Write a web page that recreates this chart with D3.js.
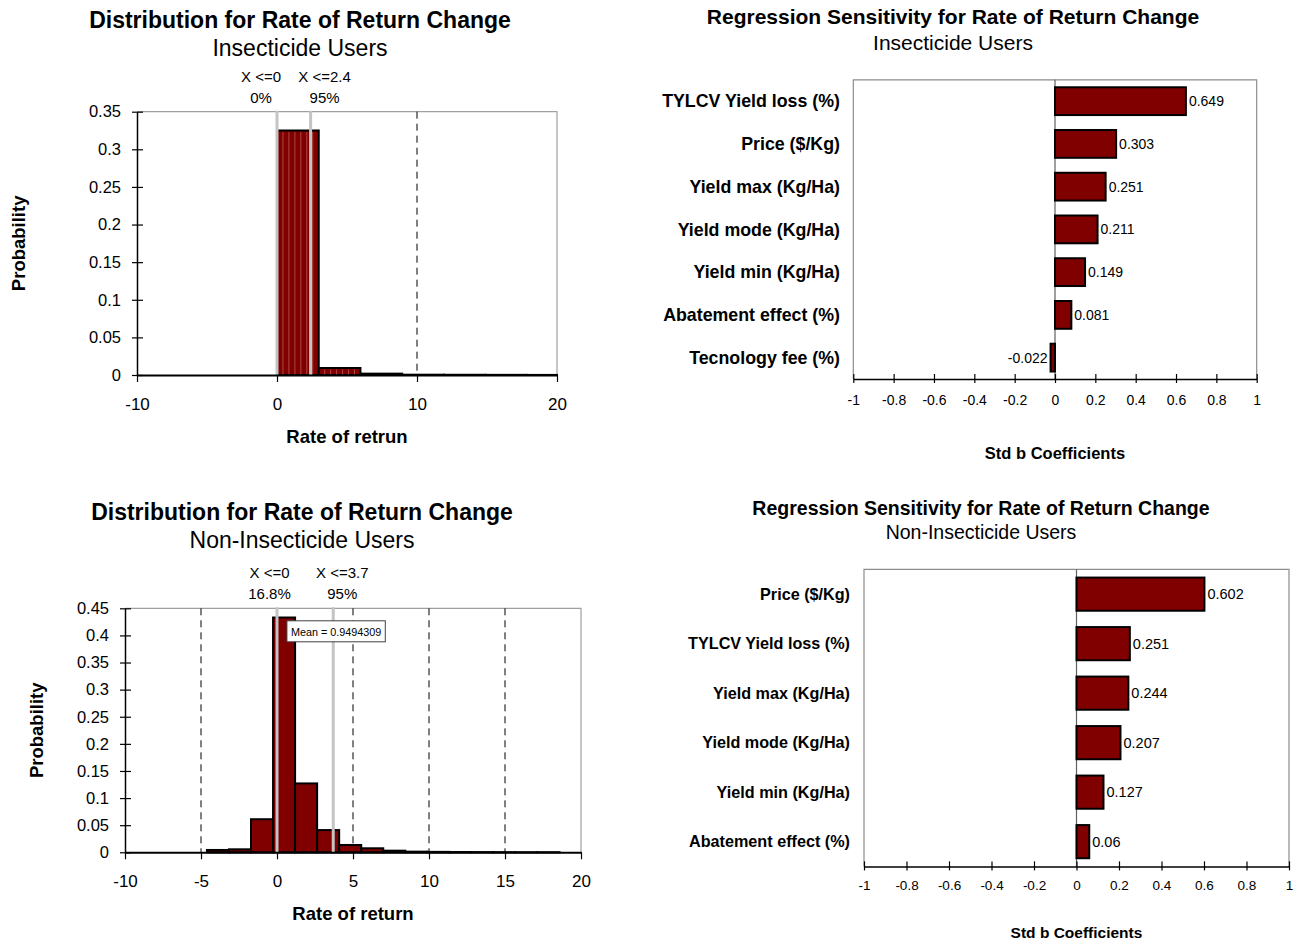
<!DOCTYPE html>
<html>
<head>
<meta charset="utf-8">
<script src="https://cdn.jsdelivr.net/npm/d3@7"></script>
<style>
  body { margin: 0; background: #fff; }
  svg { display: block; }
  text { font-family: 'Liberation Sans', Arial, sans-serif; fill: #000; }
</style>
</head>
<body>
<svg id="chart" width="1305" height="945"></svg>
<script>
// ---------- Data ----------
// Insecticide users: histogram of the rate of return change
const insBinStart = [0, 2.98, 5.96, 8.94, 11.92, 14.9, 17.88];
const insBinWidth = 2.98;
const insProb = [0.325, 0.0093, 0.0018, 0.0004, 0.0003, 0.0002, 0.0001];
const insMarkers = [0, 2.4];
const insMarkerNames = ["X <=0", "X <=2.4"];
const insMarkerPct = ["0%", "95%"];
const insXTicks = [-10, 0, 10, 20];
const insYTicks = [0, 0.05, 0.1, 0.15, 0.2, 0.25, 0.3, 0.35];

// Non-insecticide users: histogram of the rate of return change
const nonBinStart = [-4.61, -3.16, -1.71, -0.26, 1.19, 2.64, 4.09, 5.54, 6.99, 8.44, 9.89, 11.34, 12.79, 14.24, 15.69, 17.14];
const nonBinWidth = 1.45;
const nonProb = [0.0043, 0.0055, 0.061, 0.433, 0.127, 0.041, 0.0135, 0.0074, 0.003, 0.0012, 0.0008, 0.0005, 0.0004, 0.0003, 0.0002, 0.0002];
const nonMarkers = [0, 3.7];
const nonMarkerNames = ["X <=0", "X <=3.7"];
const nonMarkerPct = ["16.8%", "95%"];
const nonMean = 0.9494309;
const nonXTicks = [-10, -5, 0, 5, 10, 15, 20];
const nonYTicks = [0, 0.05, 0.1, 0.15, 0.2, 0.25, 0.3, 0.35, 0.4, 0.45];

// Regression sensitivity, insecticide users
const insFactors = ["TYLCV Yield loss (%)", "Price ($/Kg)", "Yield max (Kg/Ha)", "Yield mode (Kg/Ha)", "Yield min (Kg/Ha)", "Abatement effect (%)", "Tecnology fee (%)"];
const insCoef = [0.649, 0.303, 0.251, 0.211, 0.149, 0.081, -0.022];

// Regression sensitivity, non-insecticide users
const nonFactors = ["Price ($/Kg)", "TYLCV Yield loss (%)", "Yield max (Kg/Ha)", "Yield mode (Kg/Ha)", "Yield min (Kg/Ha)", "Abatement effect (%)"];
const nonCoef = [0.602, 0.251, 0.244, 0.207, 0.127, 0.06];

const coefTicks = [-1, -0.8, -0.6, -0.4, -0.2, 0, 0.2, 0.4, 0.6, 0.8, 1];

// ---------- Helpers ----------
const svg = d3.select("#chart");
const BAR = "#800000";
const fmt = d => String(+(+d).toFixed(3));

function txt(g, x, y, s, size, opts = {}) {
  return g.append("text")
    .attr("x", x).attr("y", y)
    .attr("text-anchor", opts.anchor || "middle")
    .attr("font-size", size)
    .attr("font-weight", opts.bold ? "bold" : "normal")
    .attr("fill", opts.fill || "#000")
    .text(s);
}

function drawHistogram(c) {
  const g = svg.append("g");
  const x = d3.scaleLinear().domain([-10, 20]).range([c.left, c.right]).clamp(true);
  const y = d3.scaleLinear().domain([0, c.yMax]).range([c.bottom, c.top]);

  // titles
  txt(g, c.titleX, c.titleY, "Distribution for Rate of Return Change", 23, { bold: true });
  txt(g, c.titleX, c.titleY + 28, c.subtitle, 23);

  // plot frame (top and right edges in grey)
  g.append("path")
    .attr("d", `M${c.left},${c.top}H${c.right}V${c.bottom}`)
    .attr("fill", "none").attr("stroke", "#a0a0a0").attr("stroke-width", 1.2);

  // dashed vertical grid
  g.selectAll(".grid").data(c.xTicks.filter(t => t > -10 && t < 20)).join("line")
    .attr("x1", d => x(d)).attr("x2", d => x(d))
    .attr("y1", c.top).attr("y2", c.bottom)
    .attr("stroke", "#000").attr("stroke-width", 1)
    .attr("stroke-dasharray", "7,5");

  // bars
  const bins = c.starts.map((s, i) => ({ x0: s, x1: s + c.binWidth, p: c.probs[i] }));
  g.selectAll(".bar").data(bins).join("rect")
    .attr("x", d => x(d.x0))
    .attr("y", d => y(d.p))
    .attr("width", d => Math.max(0, x(d.x1) - x(d.x0)))
    .attr("height", d => y(0) - y(d.p))
    .attr("fill", BAR).attr("stroke", "#000").attr("stroke-width", 2);

  // fine internal divisions of the wide bins
  if (c.stripes) {
    bins.filter(d => d.p > 0.005).forEach(d => {
      d3.range(1, c.stripes).forEach(k => {
        const xv = x(d.x0 + k * (d.x1 - d.x0) / c.stripes);
        g.append("line")
          .attr("x1", xv).attr("x2", xv)
          .attr("y1", y(d.p) + 1.5).attr("y2", y(0))
          .attr("stroke", "rgba(255,200,200,0.35)").attr("stroke-width", 1);
      });
    });
  }

  // percentile marker lines
  c.markers.forEach((m, i) => {
    g.append("line")
      .attr("x1", x(m)).attr("x2", x(m))
      .attr("y1", c.top - 1).attr("y2", c.bottom)
      .attr("stroke", "#c4c4c4").attr("stroke-width", 3);
    const lx = x(m) + c.labelDx[i];
    txt(g, lx, c.top - 30, c.markerNames[i], 15);
    txt(g, lx, c.top - 9, c.markerPct[i], 15);
  });

  // axes
  const ya = g.append("g").attr("transform", `translate(${c.left},0)`)
    .call(d3.axisLeft(y).tickValues(c.yTicks).tickFormat(fmt).tickSize(5).tickSizeOuter(0).tickPadding(11));
  ya.select(".domain").attr("stroke", "#000").attr("stroke-width", 1.5);
  ya.selectAll(".tick line").attr("x1", 6).attr("stroke", "#000").attr("stroke-width", 1.2);
  ya.selectAll(".tick text").attr("font-size", 16.5).attr("font-family", "'Liberation Sans', Arial, sans-serif");

  const xa = g.append("g").attr("transform", `translate(0,${c.bottom})`)
    .call(d3.axisBottom(x).tickValues(c.xTicks).tickFormat(fmt).tickSize(7).tickSizeOuter(0).tickPadding(16));
  xa.select(".domain").attr("stroke", "#000").attr("stroke-width", 2);
  xa.selectAll(".tick line").attr("stroke", "#000").attr("stroke-width", 1.2);
  xa.selectAll(".tick text").attr("font-size", 17).attr("font-family", "'Liberation Sans', Arial, sans-serif");

  // axis titles
  txt(g, (c.left + c.right) / 2, c.bottom + 68, c.xTitle, 18.5, { bold: true });
  g.append("text")
    .attr("transform", `translate(${c.yTitleX},${(c.top + c.bottom) / 2}) rotate(-90)`)
    .attr("text-anchor", "middle").attr("font-size", 18.5).attr("font-weight", "bold")
    .text("Probability");

  // mean annotation
  if (c.mean !== undefined) {
    const mg = g.append("g");
    const bx = x(c.mean) - 4.5, by = c.top + 12.5;
    const rect = mg.append("rect").attr("fill", "#fff").attr("stroke", "#404040").attr("stroke-width", 1);
    const t = mg.append("text").attr("x", bx + 4).attr("y", by + 15)
      .attr("font-size", 10.8).attr("fill", "#a8322d")
      .text("Mean = " + c.mean);
    const bb = t.node().getBBox();
    rect.attr("x", bx).attr("y", by).attr("width", bb.width + 8).attr("height", 21);
  }
}

function drawSensitivity(c) {
  const g = svg.append("g");
  const x = d3.scaleLinear().domain([-1, 1]).range([c.left, c.right]);
  const y = d3.scaleBand().domain(c.factors).range([c.top, c.bottom])
    .paddingInner(c.pad).paddingOuter(c.pad / 2);

  txt(g, c.titleX, c.titleY, "Regression Sensitivity for Rate of Return Change", c.titleSize, { bold: true });
  txt(g, c.titleX, c.titleY + c.titleSize * 1.25, c.subtitle, c.titleSize);

  // frame
  g.append("path")
    .attr("d", `M${c.left},${c.bottom}V${c.top}H${c.right}V${c.bottom}`)
    .attr("fill", "none").attr("stroke", "#8c8c8c").attr("stroke-width", 1.2);
  // zero line
  g.append("line")
    .attr("x1", x(0)).attr("x2", x(0)).attr("y1", c.top).attr("y2", c.bottom)
    .attr("stroke", "#606060").attr("stroke-width", 1.2);

  const data = c.factors.map((f, i) => ({ f, v: c.values[i] }));
  g.selectAll(".bar").data(data).join("rect")
    .attr("x", d => x(Math.min(0, d.v)))
    .attr("y", d => y(d.f))
    .attr("width", d => Math.abs(x(d.v) - x(0)))
    .attr("height", y.bandwidth())
    .attr("fill", BAR).attr("stroke", "#000").attr("stroke-width", 2);

  g.selectAll(".val").data(data).join("text")
    .attr("x", d => d.v >= 0 ? x(d.v) + 3 : x(d.v) - 3)
    .attr("y", d => y(d.f) + y.bandwidth() / 2)
    .attr("dy", "0.35em")
    .attr("text-anchor", d => d.v >= 0 ? "start" : "end")
    .attr("font-size", c.valSize)
    .text(d => fmt(d.v));

  g.selectAll(".cat").data(data).join("text")
    .attr("x", c.labelX)
    .attr("y", d => y(d.f) + y.bandwidth() / 2)
    .attr("dy", "0.35em")
    .attr("text-anchor", "end")
    .attr("font-size", c.catSize).attr("font-weight", "bold")
    .text(d => d.f);

  const xa = g.append("g").attr("transform", `translate(0,${c.bottom})`)
    .call(d3.axisBottom(x).tickValues(coefTicks).tickFormat(fmt).tickSize(4).tickSizeOuter(0).tickPadding(c.tickPad));
  xa.select(".domain").attr("stroke", "#000").attr("stroke-width", 1.5);
  xa.selectAll(".tick line").attr("y1", -5).attr("stroke", "#000").attr("stroke-width", 1.2);
  xa.selectAll(".tick text").attr("font-size", c.tickSize).attr("font-family", "'Liberation Sans', Arial, sans-serif");

  txt(g, (c.left + c.right) / 2, c.xTitleY, "Std b Coefficients", c.xTitleSize, { bold: true });
}

// ---------- Panels ----------
drawHistogram({
  left: 137, right: 557, top: 111.7, bottom: 375, yMax: 0.35,
  starts: insBinStart, binWidth: insBinWidth, probs: insProb,
  xTicks: insXTicks, yTicks: insYTicks,
  markers: insMarkers, markerNames: insMarkerNames, markerPct: insMarkerPct, labelDx: [-16, 14],
  titleX: 300, titleY: 28, subtitle: "Insecticide Users",
  xTitle: "Rate of retrun", yTitleX: 25, stripes: 7
});

drawHistogram({
  left: 125, right: 581, top: 608.3, bottom: 852.3, yMax: 0.45,
  starts: nonBinStart, binWidth: nonBinWidth, probs: nonProb,
  xTicks: nonXTicks, yTicks: nonYTicks,
  markers: nonMarkers, markerNames: nonMarkerNames, markerPct: nonMarkerPct, labelDx: [-7.5, 9],
  titleX: 302, titleY: 520, subtitle: "Non-Insecticide Users",
  xTitle: "Rate of return", yTitleX: 43, mean: nonMean
});

drawSensitivity({
  left: 853.3, right: 1256.7, top: 79.8, bottom: 379, pad: 0.35,
  factors: insFactors, values: insCoef,
  titleX: 953, titleY: 24, titleSize: 21, subtitle: "Insecticide Users",
  labelX: 840, catSize: 17.8, valSize: 14, tickSize: 14, tickPad: 12,
  xTitleY: 459, xTitleSize: 16.5
});

drawSensitivity({
  left: 864, right: 1289, top: 569.4, bottom: 866.4, pad: 0.33,
  factors: nonFactors, values: nonCoef,
  titleX: 981, titleY: 515, titleSize: 19.5, subtitle: "Non-Insecticide Users",
  labelX: 850, catSize: 16.2, valSize: 14.5, tickSize: 13.5, tickPad: 10,
  xTitleY: 938, xTitleSize: 15.5
});
</script>
</body>
</html>
